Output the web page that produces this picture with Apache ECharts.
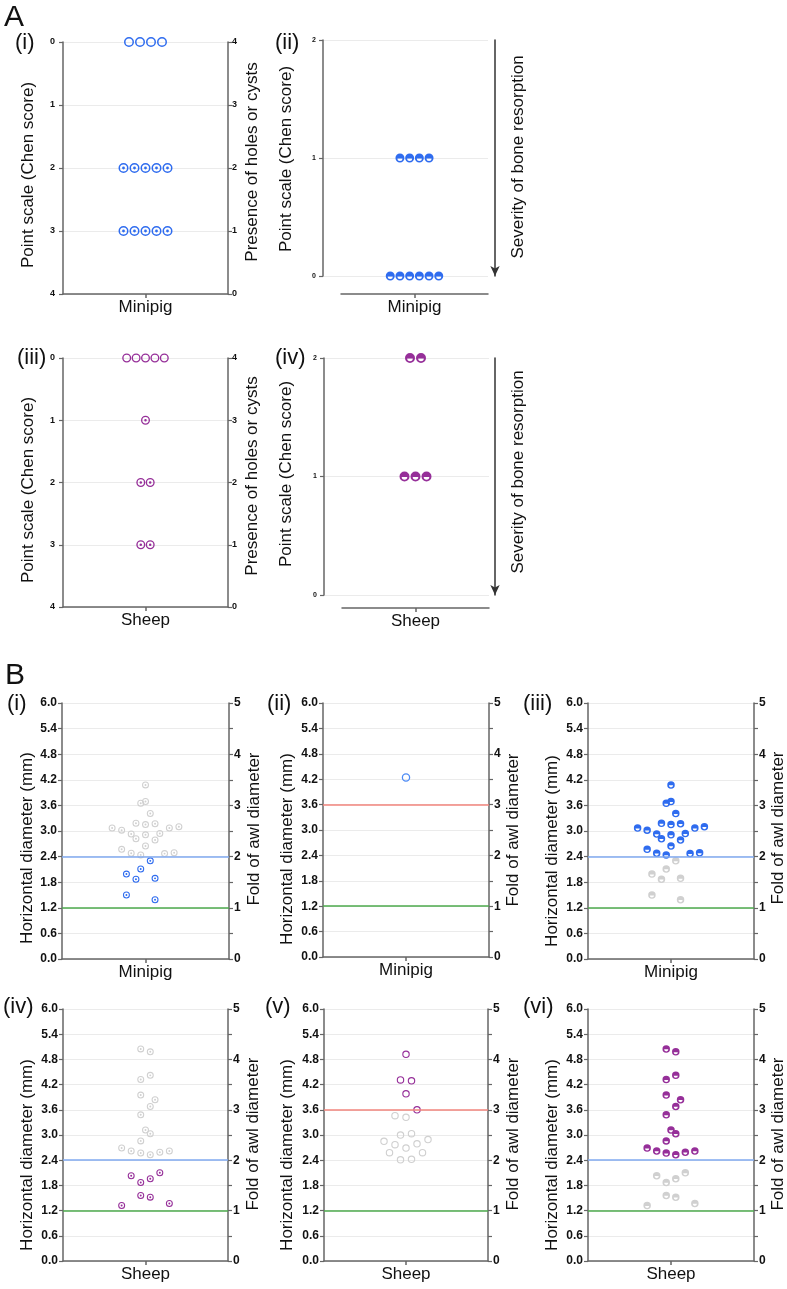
<!DOCTYPE html>
<html><head><meta charset="utf-8">
<script src="https://cdn.jsdelivr.net/npm/echarts@6/dist/echarts.min.js"></script>
<style>html,body{margin:0;padding:0;background:#fff}#c{width:787px;height:1289px}</style>
</head><body><div id="c"></div>
<script>
// ---------------- DATA ----------------
const catMinipig = 'Minipig';
const catSheep = 'Sheep';

// Panel A(i): presence of holes or cysts (Chen score), minipig
const aiScores = [0,0,0,0, 2,2,2,2,2, 3,3,3,3,3];
const aiSlots  = [-1.5,-0.5,0.5,1.5, -2,-1,0,1,2, -2,-1,0,1,2];
// Panel A(ii): severity of bone resorption, minipig
const aiiScores = [1,1,1,1, 0,0,0,0,0,0];
const aiiSlots  = [-1.5,-0.5,0.5,1.5, -2.5,-1.5,-0.5,0.5,1.5,2.5];
// Panel A(iii): presence of holes or cysts, sheep
const aiiiScores = [0,0,0,0,0, 1, 2,2, 3,3];
const aiiiSlots  = [-2,-1,0,1,2, 0, -0.5,0.5, -0.5,0.5];
// Panel A(iv): severity of bone resorption, sheep
const aivScores = [2,2, 1,1,1];
const aivSlots  = [-0.5,0.5, -1,0,1];

// Panel B: horizontal diameter (mm)
const awlDiameter = 1.2;
const minipigDiam = [4.08, 3.65,3.69, 3.41, 3.18,3.15,3.17, 3.07,3.02,3.07,3.10, 2.93,2.91,2.94, 2.82,2.79, 2.65,
                     2.57,2.48,2.44,2.47,2.49, 2.30,2.11,1.99,1.87,1.89,1.50,1.39];
const minipigSlots = [0, -1,0, 1, -2,0,2, -7,-5,5,7, -3,0,3, -2,2, 0, -5,-3,-1,4,6, 1,-1,-4,-2,2,-4,2];
const minipigDiamII = [4.24];
const minipigSlotsII = [0];
const sheepDiam = [5.05,4.98, 4.42,4.32, 3.95,3.84,3.68, 3.48, 3.12,3.03, 2.86, 2.69,2.62,2.57,2.53,2.59,2.62,
                   2.03,2.10,1.96,1.87,1.56,1.52,1.32,1.37];
const sheepSlots = [-1,1, 1,-1, -1,2,1, -1, 0,1, -1, -5,-3,-1,1,3,5, -3,3,1,-1,-1,1,-5,5];
const sheepDiamV = [4.92,4.31,4.29,3.98,3.60, 3.46,3.42,3.00,3.03,2.85,2.77,2.69,2.79,2.89,2.58,2.58,2.41,2.42];
const sheepSlotsV = [0,-1,1,0,2, -2,0,-1,1,-4,-2,0,2,4,-3,3,-1,1];

// ---------------- STYLE ----------------
const FONT = '"Liberation Sans", Arial, Helvetica, sans-serif';
const AX = '#666666';
const GRIDC = '#ebebeb';
const BLUE = '#2f6cef', BLUE_LIGHT = '#4d8bf5', PURPLE = '#962f99', GREY = '#d0d0d0';
const LINE_BLUE = '#80aaf0', LINE_GREEN = '#4caa4c', LINE_RED = '#f2847c';
const RING = 'M0,-10A10,10 0 1,1 0,10A10,10 0 1,1 0,-10Z M0,-7A7,7 0 1,0 0,7A7,7 0 1,0 0,-7Z';
const SYM = {
  hollow: 'path://' + RING,
  ringdot: 'path://' + RING + ' M0,-2.8A2.8,2.8 0 1,1 0,2.8A2.8,2.8 0 1,1 0,-2.8Z',
  half: 'path://M0,-10A10,10 0 1,1 0,10A10,10 0 1,1 0,-10Z M-5.6,1A5.6,5.6 0 0,0 5.6,1Z'
};

const grid = [], xAxis = [], yAxis = [], series = [], graphic = [];

function text(t, x, y, size, opts) {
  opts = opts || {};
  graphic.push({type:'text', x:x, y:y, rotation: opts.rot || 0, silent:true,
    style:{text:t, fill:'#111', font: (opts.weight||'normal') + ' ' + size + 'px ' + FONT,
      align: opts.align || 'center', verticalAlign:'middle'}});
}

function panel(p) {
  const P = p.plot;
  const C = p.cat || {l:P.l, r:P.r, offset:0};
  const g = grid.length;
  grid.push({left:P.l, top:P.t, width:P.r-P.l, height:P.b-P.t});
  const gc = grid.length;
  grid.push({left:C.l, top:P.t, width:C.r-C.l, height:P.b-P.t});
  const center = (C.l + C.r) / 2;
  const xi = xAxis.length;
  xAxis.push({gridIndex:g, type:'value', show:false, axisLine:{onZero:false},
    min:(P.l-center)/p.slot, max:(P.r-center)/p.slot});
  xAxis.push({gridIndex:gc, type:'category', data:[p.category], position:'bottom', offset:C.offset,
    axisLine:{show:true, onZero:false, lineStyle:{color:AX, width:1.5}},
    axisTick:{show:true, alignWithLabel:true, length:4, lineStyle:{color:AX, width:1.5}},
    axisLabel:{fontSize:17, color:'#111', margin:5, fontFamily:FONT},
    splitLine:{show:false}});
  yAxis.push({gridIndex:gc, type:'value', show:false, axisLine:{onZero:false}, min:0, max:1});
  const yi = yAxis.length;
  const L = p.yL;
  yAxis.push({gridIndex:g, type:'value', position:'left', min:L.min, max:L.max, interval:L.interval, inverse:!!L.inverse,
    axisLine:{show:true, onZero:false, lineStyle:{color:AX, width:1.5}},
    axisTick:{show:true, length:4, lineStyle:{color:AX, width:1.2}},
    axisLabel:{fontSize:L.fs, fontWeight:'bold', color:'#111', margin:L.margin, fontFamily:FONT,
      formatter: v => (+v).toFixed(L.dec)},
    splitLine:{show:true, lineStyle:{color:GRIDC, width:1}}});
  if (p.yR) {
    const R = p.yR;
    yAxis.push({gridIndex:g, type:'value', position:'right', min:R.min, max:R.max, interval:R.interval,
      axisLine:{show:true, onZero:false, lineStyle:{color:AX, width:1.5}},
      axisTick:{show:true, length:4, lineStyle:{color:AX, width:1.2}},
      axisLabel:{fontSize:R.fs, fontWeight:'bold', color:'#111', margin:R.margin, fontFamily:FONT,
        formatter: v => Math.abs(v - Math.round(v)) < 1e-6 ? String(Math.round(v)) : ''},
      splitLine:{show:false}});
  } else if (p.arrowX) {
    yAxis.push({gridIndex:g, type:'value', position:'right', offset:p.arrowX - P.r, min:0, max:1,
      axisLine:{show:true, onZero:false, symbol:['arrow','none'], symbolSize:[7,10], lineStyle:{color:'#333', width:1.5}},
      axisTick:{show:false}, axisLabel:{show:false}, splitLine:{show:false}});
  }
  if (p.lines) {
    series.push({type:'scatter', xAxisIndex:xi, yAxisIndex:yi, data:[], z:2, silent:true, animation:false,
      markLine:{silent:true, animation:false, symbol:['none','none'], label:{show:false},
        data:p.lines.map(l => ({yAxis:l.y, lineStyle:{color:l.color, width:1.5, type:'solid'}}))}});
  }
  p.groups.forEach(gr => {
    series.push({type:'scatter', xAxisIndex:xi, yAxisIndex:yi, z:3, silent:true, animation:false,
      symbolSize:gr.size,
      data: gr.values.map((v, i) => ({value:[gr.slots[i], v], symbol:SYM[gr.symbol(v)],
        itemStyle:{color:gr.color(v), opacity:1}}))});
  });
  text(p.titleL.text, p.titleL.x, p.titleL.y, p.titleFs, {rot:Math.PI/2});
  text(p.titleR.text, p.titleR.x, p.titleR.y, p.titleFs, {rot:Math.PI/2});
  text(p.label, p.labelXY[0], p.labelXY[1], 22, {align:'left'});
}

const chenL = (inv) => ({min:0, max:4, interval:1, inverse:inv, dec:0, fs:9, margin:8});
const sevL = {min:0, max:2, interval:1, inverse:false, dec:0, fs:7, margin:7};
const diamL = {min:0, max:6, interval:0.6, dec:1, fs:12, margin:5};
const foldR = {min:0, max:5, interval:0.5, fs:12, margin:5};
const holesR = {min:0, max:4, interval:1, fs:9, margin:4};

// ---- Panel A ----
panel({label:'(i)', labelXY:[15,43], plot:{l:63,t:42,r:228,b:294}, slot:11, category:catMinipig,
  yL:chenL(true), yR:holesR, titleFs:17,
  titleL:{text:'Point scale (Chen score)', x:28, y:175}, titleR:{text:'Presence of holes or cysts', x:252, y:162},
  groups:[{values:aiScores, slots:aiSlots, size:10, symbol:v => v===0?'hollow':'ringdot', color:() => BLUE}]});
panel({label:'(ii)', labelXY:[275,43], plot:{l:323,t:40,r:488,b:276}, cat:{l:341,r:488,offset:18}, slot:9.7,
  category:catMinipig, yL:sevL, arrowX:495, titleFs:17,
  titleL:{text:'Point scale (Chen score)', x:286, y:159}, titleR:{text:'Severity of bone resorption', x:518, y:157},
  groups:[{values:aiiScores, slots:aiiSlots, size:9, symbol:() => 'half', color:() => BLUE}]});
panel({label:'(iii)', labelXY:[17,358], plot:{l:63,t:358,r:228,b:607}, slot:9.4, category:catSheep,
  yL:chenL(true), yR:holesR, titleFs:17,
  titleL:{text:'Point scale (Chen score)', x:28, y:490}, titleR:{text:'Presence of holes or cysts', x:252, y:476},
  groups:[{values:aiiiScores, slots:aiiiSlots, size:9, symbol:v => v===0?'hollow':'ringdot', color:() => PURPLE}]});
panel({label:'(iv)', labelXY:[275,358], plot:{l:324,t:358,r:489,b:595}, cat:{l:342,r:489,offset:13}, slot:11,
  category:catSheep, yL:sevL, arrowX:495, titleFs:17,
  titleL:{text:'Point scale (Chen score)', x:286, y:474}, titleR:{text:'Severity of bone resorption', x:518, y:472},
  groups:[{values:aivScores, slots:aivSlots, size:10, symbol:() => 'half', color:() => PURPLE}]});

// ---- Panel B ----
const linesLow = [{y:awlDiameter*2, color:LINE_BLUE}, {y:awlDiameter, color:LINE_GREEN}];
const linesHigh = [{y:awlDiameter*3, color:LINE_RED}, {y:awlDiameter, color:LINE_GREEN}];
const hd = 'Horizontal diameter (mm)', fa = 'Fold of awl diameter';
panel({label:'(i)', labelXY:[7,704], plot:{l:62,t:703,r:229,b:959}, slot:4.77, category:catMinipig,
  yL:diamL, yR:foldR, lines:linesLow, titleFs:17,
  titleL:{text:hd, x:27, y:848}, titleR:{text:fa, x:254, y:829},
  groups:[{values:minipigDiam, slots:minipigSlots, size:7, symbol:() => 'ringdot',
    color:v => v >= awlDiameter*2 ? GREY : BLUE}]});
panel({label:'(ii)', labelXY:[267,704], plot:{l:323,t:703,r:489,b:957}, slot:4.77, category:catMinipig,
  yL:diamL, yR:foldR, lines:linesHigh, titleFs:17,
  titleL:{text:hd, x:287, y:849}, titleR:{text:fa, x:513, y:830},
  groups:[{values:minipigDiamII, slots:minipigSlotsII, size:8.5, symbol:() => 'hollow', color:() => BLUE_LIGHT}]});
panel({label:'(iii)', labelXY:[523,704], plot:{l:588,t:703,r:754,b:959}, slot:4.77, category:catMinipig,
  yL:diamL, yR:foldR, lines:linesLow, titleFs:17,
  titleL:{text:hd, x:552, y:851}, titleR:{text:fa, x:778, y:828},
  groups:[{values:minipigDiam, slots:minipigSlots, size:7.5, symbol:() => 'half',
    color:v => v >= awlDiameter*2 ? BLUE : GREY}]});
panel({label:'(iv)', labelXY:[3,1007], plot:{l:63,t:1009,r:228,b:1261}, slot:4.77, category:catSheep,
  yL:diamL, yR:foldR, lines:linesLow, titleFs:17,
  titleL:{text:hd, x:27, y:1155}, titleR:{text:fa, x:253, y:1134},
  groups:[{values:sheepDiam, slots:sheepSlots, size:7, symbol:() => 'ringdot',
    color:v => v >= awlDiameter*2 ? GREY : PURPLE}]});
panel({label:'(v)', labelXY:[265,1007], plot:{l:324,t:1009,r:488,b:1261}, slot:5.5, category:catSheep,
  yL:diamL, yR:foldR, lines:linesHigh, titleFs:17,
  titleL:{text:hd, x:287, y:1155}, titleR:{text:fa, x:513, y:1134},
  groups:[{values:sheepDiamV, slots:sheepSlotsV, size:7.5, symbol:() => 'hollow',
    color:v => v >= awlDiameter*3 - 1e-9 ? PURPLE : GREY}]});
panel({label:'(vi)', labelXY:[523,1007], plot:{l:588,t:1009,r:754,b:1261}, slot:4.77, category:catSheep,
  yL:diamL, yR:foldR, lines:linesLow, titleFs:17,
  titleL:{text:hd, x:552, y:1155}, titleR:{text:fa, x:778, y:1134},
  groups:[{values:sheepDiam, slots:sheepSlots, size:7.5, symbol:() => 'half',
    color:v => v >= awlDiameter*2 ? PURPLE : GREY}]});

text('A', 4, 18, 30, {align:'left'});
text('B', 5, 676, 30, {align:'left'});

const chart = echarts.init(document.getElementById('c'), null, {renderer:'canvas', width:787, height:1289});
chart.setOption({animation:false, backgroundColor:'#fff', grid:grid, xAxis:xAxis, yAxis:yAxis, series:series, graphic:graphic});
</script></body></html>
